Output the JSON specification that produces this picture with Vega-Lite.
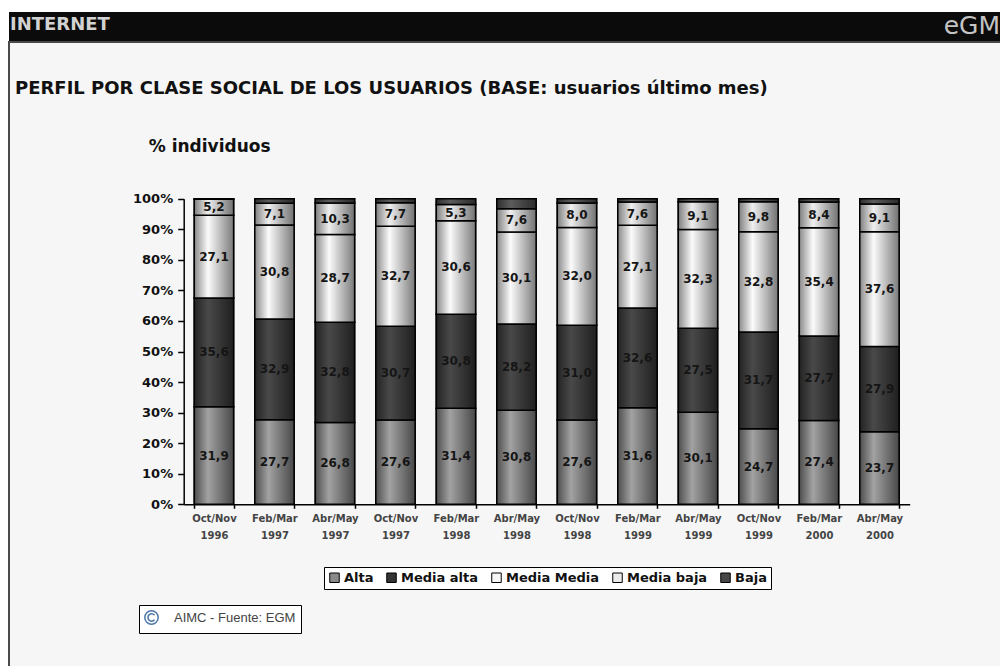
{
  "$schema": "https://vega.github.io/schema/vega-lite/v6.json",
  "background": "#ffffff",
  "padding": {"left": 8, "top": 12, "right": 0, "bottom": 0},
  "autosize": {"type": "pad"},
  "spacing": 0,
  "config": {
    "locale": {"number": {"decimal": ",", "thousands": ".", "grouping": [3], "currency": ["", " €"]}},
    "font": "DejaVu Sans",
    "view": {"stroke": null}
  },
  "datasets": {
    "egm": [
      {"periodo": "Oct/Nov 1996", "Alta": 31.9, "Media alta": 35.6, "Media Media": 27.1, "Media baja": 5.2, "Baja": 0.2},
      {"periodo": "Feb/Mar 1997", "Alta": 27.7, "Media alta": 32.9, "Media Media": 30.8, "Media baja": 7.1, "Baja": 1.5},
      {"periodo": "Abr/May 1997", "Alta": 26.8, "Media alta": 32.8, "Media Media": 28.7, "Media baja": 10.3, "Baja": 1.4},
      {"periodo": "Oct/Nov 1997", "Alta": 27.6, "Media alta": 30.7, "Media Media": 32.7, "Media baja": 7.7, "Baja": 1.3},
      {"periodo": "Feb/Mar 1998", "Alta": 31.4, "Media alta": 30.8, "Media Media": 30.6, "Media baja": 5.3, "Baja": 1.9},
      {"periodo": "Abr/May 1998", "Alta": 30.8, "Media alta": 28.2, "Media Media": 30.1, "Media baja": 7.6, "Baja": 3.3},
      {"periodo": "Oct/Nov 1998", "Alta": 27.6, "Media alta": 31.0, "Media Media": 32.0, "Media baja": 8.0, "Baja": 1.4},
      {"periodo": "Feb/Mar 1999", "Alta": 31.6, "Media alta": 32.6, "Media Media": 27.1, "Media baja": 7.6, "Baja": 1.1},
      {"periodo": "Abr/May 1999", "Alta": 30.1, "Media alta": 27.5, "Media Media": 32.3, "Media baja": 9.1, "Baja": 1.0},
      {"periodo": "Oct/Nov 1999", "Alta": 24.7, "Media alta": 31.7, "Media Media": 32.8, "Media baja": 9.8, "Baja": 1.0},
      {"periodo": "Feb/Mar 2000", "Alta": 27.4, "Media alta": 27.7, "Media Media": 35.4, "Media baja": 8.4, "Baja": 1.1},
      {"periodo": "Abr/May 2000", "Alta": 23.7, "Media alta": 27.9, "Media Media": 37.6, "Media baja": 9.1, "Baja": 1.7}
    ]
  },
  "vconcat": [
    {
      "width": 992,
      "height": 29,
      "view": {"fill": "#0b0b0b", "stroke": null},
      "layer": [
        {
          "data": {"values": [{"t": "INTERNET"}]},
          "mark": {"type": "text", "align": "left", "baseline": "middle", "font": "DejaVu Sans", "fontWeight": "bold", "fontSize": 18, "color": "#d2d2d2", "dx": 1, "dy": -2},
          "encoding": {
            "x": {"datum": 0, "type": "quantitative", "scale": {"domain": [0, 1]}, "axis": null},
            "text": {"field": "t", "type": "nominal"}
          }
        },
        {
          "data": {"values": [{"t": "eGM"}]},
          "mark": {"type": "text", "align": "right", "baseline": "middle", "font": "DejaVu Sans", "fontSize": 25, "color": "#c4c4c4", "dx": -1, "dy": -1},
          "encoding": {
            "x": {"datum": 1, "type": "quantitative", "axis": null},
            "text": {"field": "t", "type": "nominal"}
          }
        }
      ]
    },
    {
      "width": 992,
      "height": 625,
      "view": {"fill": "#f6f6f6", "stroke": "#4a4a4a", "strokeWidth": 2},
      "title": {
        "text": "PERFIL POR CLASE SOCIAL DE LOS USUARIOS (BASE: usuarios último mes)",
        "anchor": "start", "frame": "group", "offset": -56, "dx": 6,
        "font": "DejaVu Sans", "fontSize": 18, "fontWeight": "bold", "color": "#111111"
      },
      "layer": [
        {
          "data": {"name": "egm"},
          "transform": [
            {"fold": ["Alta", "Media alta", "Media Media", "Media baja", "Baja"], "as": ["clase", "pct"]},
            {"window": [{"op": "row_number", "as": "k"}], "groupby": ["periodo"]},
            {"stack": "pct", "groupby": ["periodo"], "sort": [{"field": "k", "order": "ascending"}], "as": ["y0", "y1"]}
          ],
          "encoding": {
            "x": {
              "field": "periodo", "type": "nominal", "sort": null,
              "scale": {"range": [174.7, 900.7], "paddingInner": 0.35, "paddingOuter": 0.175},
              "axis": {
                "title": null, "orient": "bottom", "offset": -162.7,
                "labelExpr": "split(datum.label, ' ')", "labelAngle": 0,
                "labelFont": "DejaVu Sans", "labelFontWeight": "bold", "labelFontSize": 10, "labelColor": "#444444",
                "labelLineHeight": 17, "labelPadding": 5,
                "tickSize": 4, "tickBand": "extent", "tickColor": "#000000", "tickWidth": 1.5,
                "domainColor": "#000000", "domainWidth": 1.5
              }
            },
            "y": {
              "field": "y1", "type": "quantitative",
              "scale": {"domain": [0, 100], "range": [462.3, 156.7], "nice": false, "zero": true},
              "axis": {
                "title": "% individuos", "titleAngle": 0, "titleAlign": "left", "titleBaseline": "alphabetic",
                "titleX": -35.5, "titleY": 109, "titleFont": "DejaVu Sans", "titleFontSize": 17, "titleFontWeight": "bold", "titleColor": "#111111",
                "offset": -174.7, "values": [0, 10, 20, 30, 40, 50, 60, 70, 80, 90, 100],
                "labelExpr": "datum.value + '%'", "labelFont": "DejaVu Sans", "labelFontWeight": "bold", "labelFontSize": 13, "labelColor": "#111111",
                "labelPadding": 5, "tickSize": 6, "tickColor": "#000000", "tickWidth": 1.5,
                "domainColor": "#000000", "domainWidth": 1.5, "grid": false
              }
            }
          },
          "layer": [
            {
              "mark": {"type": "bar", "stroke": "#000000", "strokeWidth": 1.5},
              "encoding": {
                "y2": {"field": "y0"},
                "color": {
                  "field": "clase", "type": "nominal",
                  "sort": ["Alta", "Media alta", "Media Media", "Media baja", "Baja"],
                  "scale": {"domain": ["Alta", "Media alta", "Media Media", "Media baja", "Baja"], "range": ["#8a8a8a", "#343434", "#f8f8f8", "#ececec", "#474747"]},
                  "legend": {
                    "title": null, "orient": "none", "legendX": 315, "legendY": 555, "direction": "horizontal",
                    "symbolType": "square", "symbolSize": 90, "symbolStrokeColor": "#000000", "symbolStrokeWidth": 1,
                    "labelFont": "DejaVu Sans", "labelFontWeight": "bold", "labelFontSize": 13, "labelColor": "#111111",
                    "labelOffset": 3, "columnPadding": 10, "padding": 4,
                    "fillColor": "#ffffff", "strokeColor": "#000000"
                  }
                }
              }
            },
            {
              "transform": [{"filter": "datum.clase == 'Alta'"}],
              "mark": {"type": "bar", "stroke": "#000000", "strokeWidth": 1.5,
                "fill": {"gradient": "linear", "x1": 0, "y1": 0, "x2": 1, "y2": 0, "stops": [{"offset": 0, "color": "#4e4e4e"}, {"offset": 0.35, "color": "#a2a2a2"}, {"offset": 1, "color": "#484848"}]}},
              "encoding": {"y2": {"field": "y0"}}
            },
            {
              "transform": [{"filter": "datum.clase == 'Media alta'"}],
              "mark": {"type": "bar", "stroke": "#000000", "strokeWidth": 1.5,
                "fill": {"gradient": "linear", "x1": 0, "y1": 0, "x2": 1, "y2": 0, "stops": [{"offset": 0, "color": "#232323"}, {"offset": 0.35, "color": "#494949"}, {"offset": 1, "color": "#1f1f1f"}]}},
              "encoding": {"y2": {"field": "y0"}}
            },
            {
              "transform": [{"filter": "datum.clase == 'Media Media'"}],
              "mark": {"type": "bar", "stroke": "#000000", "strokeWidth": 1.5,
                "fill": {"gradient": "linear", "x1": 0, "y1": 0, "x2": 1, "y2": 0, "stops": [{"offset": 0, "color": "#8a8a8a"}, {"offset": 0.35, "color": "#fbfbfb"}, {"offset": 1, "color": "#7a7a7a"}]}},
              "encoding": {"y2": {"field": "y0"}}
            },
            {
              "transform": [{"filter": "datum.clase == 'Media baja'"}],
              "mark": {"type": "bar", "stroke": "#000000", "strokeWidth": 1.5,
                "fill": {"gradient": "linear", "x1": 0, "y1": 0, "x2": 1, "y2": 0, "stops": [{"offset": 0, "color": "#7e7e7e"}, {"offset": 0.35, "color": "#efefef"}, {"offset": 1, "color": "#717171"}]}},
              "encoding": {"y2": {"field": "y0"}}
            },
            {
              "transform": [{"filter": "datum.clase == 'Baja'"}],
              "mark": {"type": "bar", "stroke": "#000000", "strokeWidth": 1.5,
                "fill": {"gradient": "linear", "x1": 0, "y1": 0, "x2": 1, "y2": 0, "stops": [{"offset": 0, "color": "#2e2e2e"}, {"offset": 0.35, "color": "#5c5c5c"}, {"offset": 1, "color": "#2a2a2a"}]}},
              "encoding": {"y2": {"field": "y0"}}
            },
            {
              "transform": [{"filter": "datum.clase != 'Baja'"}],
              "mark": {"type": "text", "font": "DejaVu Sans", "fontWeight": "bold", "fontSize": 12, "color": "#151515", "baseline": "middle"},
              "encoding": {
                "y": {"field": "pct", "type": "quantitative", "stack": "zero", "bandPosition": 0.5},
                "detail": {"field": "clase", "type": "nominal"},
                "order": {"field": "k", "type": "quantitative"},
                "text": {"field": "pct", "type": "quantitative", "format": ".1f"}
              }
            }
          ]
        },
        {
          "data": {"values": [{"fuente": "AIMC - Fuente: EGM"}]},
          "mark": {"type": "point", "opacity": 0},
          "encoding": {
            "shape": {
              "field": "fuente", "type": "nominal",
              "scale": {"range": ["M-1,0A1,1 0 1,0 1,0A1,1 0 1,0 -1,0Z M0.45,-0.35A0.55,0.55 0 1,0 0.45,0.35"]},
              "legend": {
                "title": null, "orient": "none", "legendX": 130, "legendY": 593,
                "symbolSize": 180, "labelFont": "Liberation Sans", "labelFontSize": 13, "labelColor": "#444444",
                "labelOffset": 15, "padding": 5, "fillColor": "#ffffff", "strokeColor": "#000000",
                "encode": {"symbols": {"update": {"opacity": {"value": 1}, "fill": {"value": "transparent"}, "stroke": {"value": "#111111"}, "strokeWidth": {"value": 1.3}}}}
              }
            }
          }
        }
      ]
    }
  ]
}
